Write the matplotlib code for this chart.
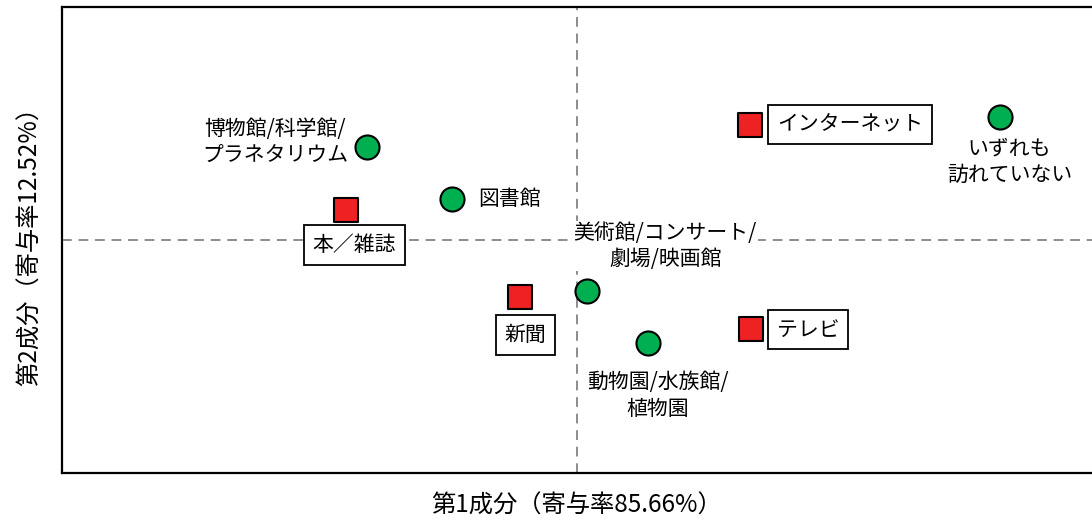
"""Correspondence analysis map: media vs. visited cultural facilities."""

import matplotlib.pyplot as plt

plt.rcParams["font.family"] = ["Noto Sans CJK JP", "DejaVu Sans"]

# facilities (green circles)
facility_names = [
    "博物館/科学館/\nプラネタリウム",
    "図書館",
    "美術館/コンサート/\n劇場/映画館",
    "動物園/水族館/\n植物園",
    "いずれも\n訪れていない",
]
facility_x = [-0.204, -0.121, 0.010, 0.069, 0.411]
facility_y = [0.100, 0.044, -0.055, -0.110, 0.132]

# media (red squares)
media_names = ["インターネット", "本／雑誌", "新聞", "テレビ"]
media_x = [0.168, -0.224, -0.055, 0.169]
media_y = [0.123, 0.032, -0.061, -0.096]

xlabel = "第1成分（寄与率85.66%）"
ylabel = "第2成分（寄与率12.52%）"

# label offsets in pixels (dx, dy, ha)
facility_offsets = [(-92, 5, "center"), (26, 0, "left"), (78, 45, "center"),
                    (10, -53, "center"), (9, -45, "center")]
media_offsets = [(27, 1, "left"), (8, -35, "center"), (5, -38, "center"),
                 (26, 0, "left")]

fig = plt.figure(figsize=(10.92, 5.28), dpi=100)
ax = fig.add_axes([62 / 1092, (528 - 473) / 528, (1092 - 62) / 1092, 466 / 528])

ax.axhline(0, color="#8c8c8c", lw=1.4, ls=(0, (5, 3.5)), zorder=1)
ax.axvline(0, color="#8c8c8c", lw=1.4, ls=(0, (5, 3.5)), zorder=1)

ax.scatter(facility_x, facility_y, s=300, marker="o", color="#00b050",
           edgecolor="black", linewidth=1.5, zorder=3)
ax.scatter(media_x, media_y, s=290, marker="s", color="#ee2222",
           edgecolor="black", linewidth=1.5, zorder=3)

for name, x, y, (dx, dy, ha) in zip(facility_names, facility_x, facility_y,
                                    facility_offsets):
    ax.annotate(name, (x, y), xytext=(dx, dy), textcoords="offset pixels",
                ha=ha, va="center", fontsize=15, linespacing=1.25,
                multialignment="center", zorder=4,
                bbox=dict(boxstyle="square,pad=0.05", fc="white", ec="none"))

for name, x, y, (dx, dy, ha) in zip(media_names, media_x, media_y,
                                    media_offsets):
    ax.annotate(name, (x, y), xytext=(dx, dy), textcoords="offset pixels",
                ha=ha, va="center", fontsize=15, zorder=4,
                bbox=dict(boxstyle="square,pad=0.42", fc="white", ec="black",
                          lw=1.3))

ax.set_xlim(-0.5, 0.5)
ax.set_ylim(-0.25, 0.25)
ax.set_xticks([])
ax.set_yticks([])
for side in ["left", "top", "bottom"]:
    ax.spines[side].set_linewidth(1.6)
ax.spines["right"].set_visible(False)

ax.set_xlabel(xlabel, fontsize=17.5, labelpad=14)
ax.set_ylabel(ylabel, fontsize=17.5, labelpad=14)

fig.savefig("out.png", dpi=100)
